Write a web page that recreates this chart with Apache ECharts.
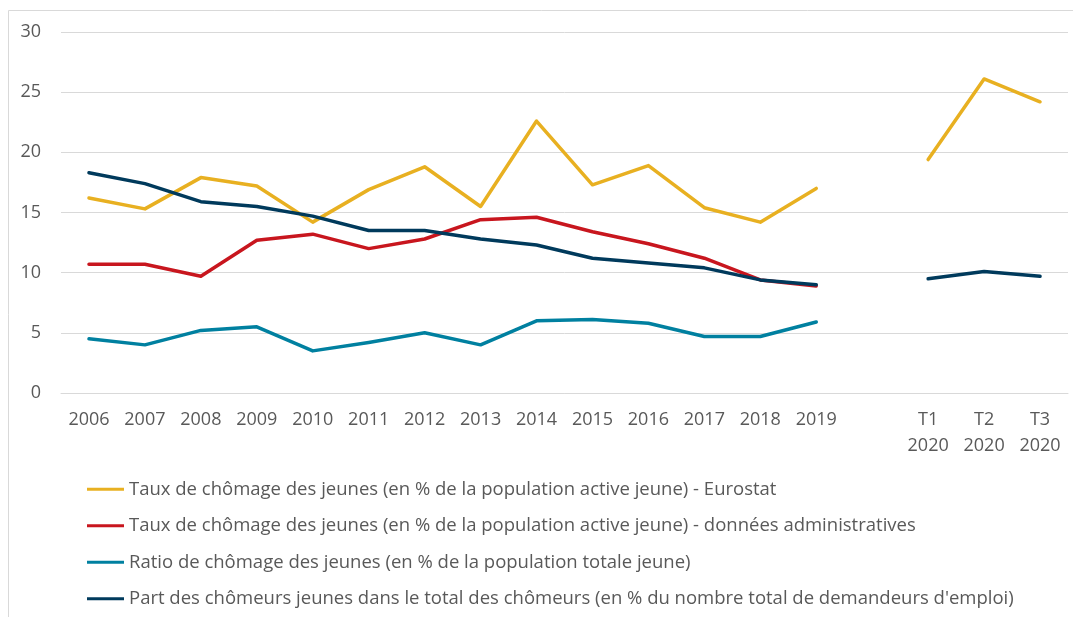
<!DOCTYPE html>
<html>
<head>
<meta charset="utf-8">
<script src="https://cdn.jsdelivr.net/npm/echarts@6/dist/echarts.min.js"></script>
<style>
  html, body {margin: 0; padding: 0; background: #fff;}
  #main {width: 1073px; height: 617px;}
</style>
</head>
<body>
<div id="main"></div>
<script>
// catégories (une colonne vide entre 2019 et 2020)
const categories = ['2006', '2007', '2008', '2009', '2010', '2011', '2012', '2013', '2014',
    '2015', '2016', '2017', '2018', '2019', '', 'T1\n2020', 'T2\n2020', 'T3\n2020'];

const eurostat = [16.2, 15.3, 17.9, 17.2, 14.2, 16.9, 18.8, 15.5, 22.6, 17.3, 18.9, 15.4, 14.2, 17.0, null, 19.4, 26.1, 24.2];
const administratives = [10.7, 10.7, 9.7, 12.7, 13.2, 12.0, 12.8, 14.4, 14.6, 13.4, 12.4, 11.2, 9.4, 8.9, null, null, null, null];
const ratio = [4.5, 4.0, 5.2, 5.5, 3.5, 4.2, 5.0, 4.0, 6.0, 6.1, 5.8, 4.7, 4.7, 5.9, null, null, null, null];
const partChomeurs = [18.3, 17.4, 15.9, 15.5, 14.7, 13.5, 13.5, 12.8, 12.3, 11.2, 10.8, 10.4, 9.4, 9.0, null, 9.5, 10.1, 9.7];

const seriesNames = [
    'Taux de chômage des jeunes (en % de la population active jeune) - Eurostat',
    'Taux de chômage des jeunes (en % de la population active jeune) - données administratives',
    'Ratio de chômage des jeunes (en % de la population totale jeune)',
    "Part des chômeurs jeunes dans le total des chômeurs (en % du nombre total de demandeurs d'emploi)"
];
const colors = ['#E8B021', '#C8161E', '#0080A0', '#003A5C'];
const values = [eurostat, administratives, ratio, partChomeurs];

const textColor = '#595959';
const fontFamily = '"Open Sans", sans-serif';

let myChart = echarts.init(document.getElementById('main'));
myChart.setOption({
    animation: false,
    textStyle: {fontFamily: fontFamily},
    graphic: [{
        type: 'rect',
        shape: {x: 8.5, y: 10.5, width: 1200, height: 800},
        style: {fill: 'none', stroke: '#d9d9d9', lineWidth: 1},
        silent: true
    }],
    grid: {left: 61, right: 5, top: 32, bottom: 224},
    legend: {
        orient: 'vertical',
        left: 82, top: 474,
        itemWidth: 37, itemHeight: 3,
        itemGap: 16,
        icon: 'rect',
        selectedMode: false,
        textStyle: {color: textColor, fontSize: 18.5, lineHeight: 20.5, fontFamily: fontFamily},
        data: seriesNames
    },
    xAxis: {
        type: 'category',
        data: categories,
        boundaryGap: true,
        axisLine: {show: true, lineStyle: {color: '#d9d9d9', width: 1}},
        axisTick: {show: false},
        axisLabel: {color: textColor, fontSize: 18, margin: 14, interval: 0, lineHeight: 26, fontFamily: fontFamily}
    },
    yAxis: {
        type: 'value',
        min: 0, max: 30, interval: 5,
        axisLine: {show: false},
        axisTick: {show: false},
        axisLabel: {color: textColor, fontSize: 18, margin: 20, fontFamily: fontFamily},
        splitLine: {lineStyle: {color: '#d9d9d9', width: 1}}
    },
    series: values.map((v, i) => ({
        name: seriesNames[i],
        type: 'line',
        data: v,
        symbol: 'none',
        connectNulls: false,
        color: colors[i],
        lineStyle: {color: colors[i], width: 3.5, cap: 'round', join: 'round'},
        z: i === 3 ? 5 : 3
    }))
});
</script>
</body>
</html>
